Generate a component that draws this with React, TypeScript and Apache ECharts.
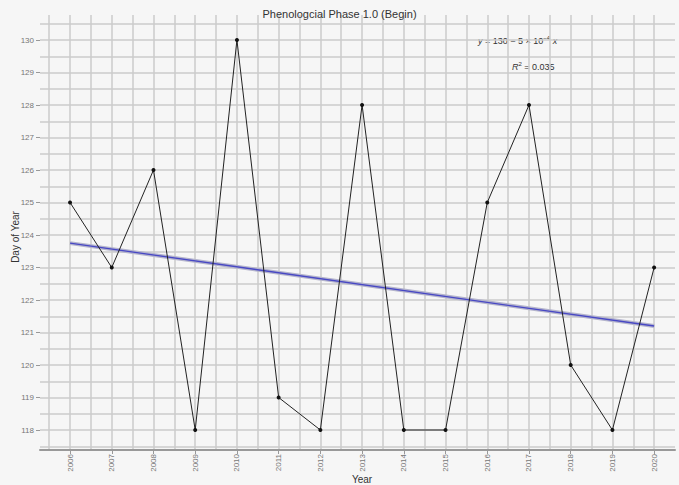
import React, { useEffect, useRef } from "react";
import * as echarts from "echarts";

const years = [2006, 2007, 2008, 2009, 2010, 2011, 2012, 2013, 2014, 2015, 2016, 2017, 2018, 2019, 2020];
const dayOfYear = [125, 123, 126, 118, 130, 119, 118, 128, 118, 118, 125, 128, 120, 118, 123];
const trendYears = [2006, 2020];
const trendValues = [123.75, 121.2];
const yTicks = [118, 119, 120, 121, 122, 123, 124, 125, 126, 127, 128, 129, 130];
const yGrid = [117.5, 118, 118.5, 119, 119.5, 120, 120.5, 121, 121.5, 122, 122.5, 123, 123.5, 124, 124.5, 125, 125.5, 126, 126.5, 127, 127.5, 128, 128.5, 129, 129.5, 130, 130.5];
const xGrid = [2005.5, 2006, 2006.5, 2007, 2007.5, 2008, 2008.5, 2009, 2009.5, 2010, 2010.5, 2011, 2011.5, 2012, 2012.5, 2013, 2013.5, 2014, 2014.5, 2015, 2015.5, 2016, 2016.5, 2017, 2017.5, 2018, 2018.5, 2019, 2019.5, 2020];

export default function App() {
  const ref = useRef<HTMLDivElement>(null);
  useEffect(() => {
    if (!ref.current) return;
    const chart = echarts.init(ref.current, null, { renderer: "svg" });
    const font = "Liberation Sans, Arial, sans-serif";
    const xMin = 2005.28, xMax = 2020.5, yMin = 117.385, yMax = 130.77;
    chart.setOption({
      animation: false,
      backgroundColor: "#f6f6f6",
      title: {
        text: "Phenologcial Phase 1.0 (Begin)",
        left: "center",
        top: 3,
        textStyle: { fontSize: 11, fontWeight: "normal", color: "#333", fontFamily: font },
      },
      grid: { left: 40, right: 4, top: 15, bottom: 35, containLabel: false, outerBoundsMode: "none" },
      xAxis: [
        {
          type: "value", min: xMin, max: xMax,
          axisLine: { show: true, lineStyle: { color: "#999", width: 2 } },
          axisTick: { show: true, length: 4, customValues: years, lineStyle: { color: "#999" } },
          axisLabel: {
            customValues: years, rotate: 90, fontSize: 8, color: "#777", margin: 4, fontFamily: font,
            formatter: (v: number) => String(Math.round(v)),
          },
          splitLine: { show: false },
        },
        {
          type: "value", min: xMin, max: xMax, position: "bottom",
          axisLine: { show: false }, axisLabel: { show: false },
          axisTick: { show: false, customValues: xGrid },
          splitLine: { show: true, lineStyle: { color: "#cbcbcb", width: 1.5 } },
        },
      ],
      yAxis: [
        {
          type: "value", min: yMin, max: yMax,
          axisLine: { show: false },
          axisTick: { show: true, length: 4, customValues: yTicks, lineStyle: { color: "#999" } },
          axisLabel: { customValues: yTicks, fontSize: 8, color: "#777", margin: 6, fontFamily: font },
          splitLine: { show: false },
        },
        {
          type: "value", min: yMin, max: yMax, position: "left",
          axisLine: { show: false }, axisLabel: { show: false },
          axisTick: { show: false, customValues: yGrid },
          splitLine: { show: true, lineStyle: { color: "#cbcbcb", width: 1.5 } },
        },
      ],
      graphic: [
        {
          type: "text", x: 362, y: 479,
          style: {
            text: "Year", fontSize: 10, fill: "#333", fontFamily: font,
            align: "center", verticalAlign: "middle",
          },
        },
        {
          type: "text", x: 15, y: 237, rotation: Math.PI / 2,
          style: {
            text: "Day of Year", fontSize: 10, fill: "#333", fontFamily: font,
            align: "center", verticalAlign: "middle",
          },
        },
        {
          type: "text", left: 478, top: 35,
          style: {
            text: "{i|y} = 130 − 5 × 10{s|−4} {i|x}",
            rich: {
              i: { fontStyle: "italic", fontSize: 9, fill: "#333", fontFamily: font },
              s: { fontSize: 6, fill: "#333", verticalAlign: "top", padding: [0, 0, 5, 0], fontFamily: font },
            },
            fontSize: 9, fill: "#333", fontFamily: font,
          },
        },
        {
          type: "text", left: 512, top: 61,
          style: {
            text: "{i|R}{s|2} = 0.035",
            rich: {
              i: { fontStyle: "italic", fontSize: 9, fill: "#333", fontFamily: font },
              s: { fontSize: 6, fill: "#333", padding: [0, 0, 5, 0], fontFamily: font },
            },
            fontSize: 9, fill: "#333", fontFamily: font,
          },
        },
      ],
      series: [
        {
          type: "line", xAxisIndex: 0, yAxisIndex: 0,
          data: trendYears.map((y, i) => [y, trendValues[i]]),
          symbol: "none",
          lineStyle: { color: "#b4b4cc", width: 4 },
          z: 3,
        },
        {
          type: "line", xAxisIndex: 0, yAxisIndex: 0,
          data: trendYears.map((y, i) => [y, trendValues[i]]),
          symbol: "none",
          lineStyle: { color: "#4848c4", width: 1.3 },
          z: 4,
        },
        {
          type: "line", xAxisIndex: 0, yAxisIndex: 0,
          data: years.map((y, i) => [y, dayOfYear[i]]),
          symbol: "circle", symbolSize: 4,
          itemStyle: { color: "#111" },
          lineStyle: { color: "#222", width: 1 },
          z: 5,
        },
      ],
    });
    return () => chart.dispose();
  }, []);
  return <div ref={ref} style={{ position: "fixed", left: 0, top: 0, width: 679, height: 485 }} />;
}
